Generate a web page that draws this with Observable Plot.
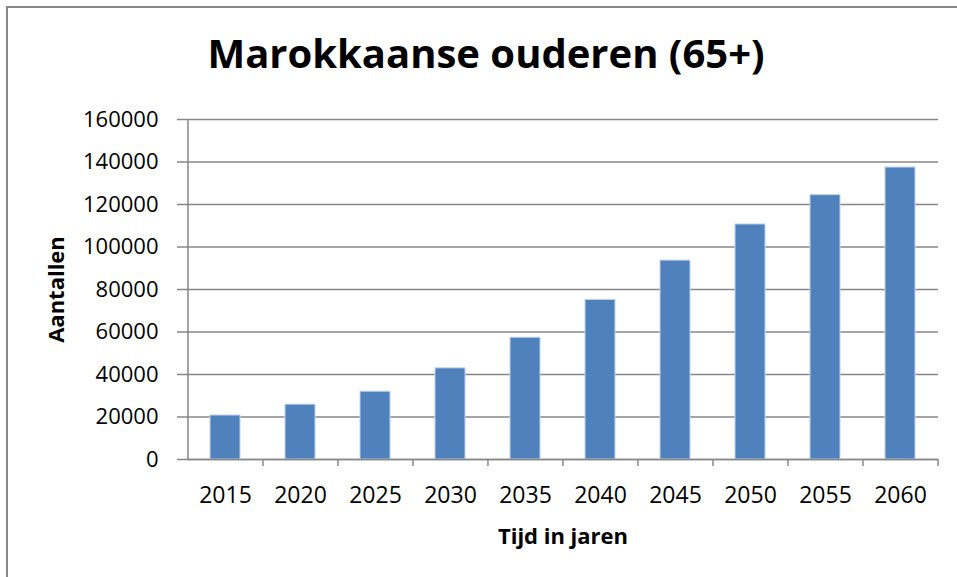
<!DOCTYPE html>
<html>
<head>
<meta charset="utf-8">
<script src="https://cdn.jsdelivr.net/npm/d3@7"></script>
<script src="https://cdn.jsdelivr.net/npm/@observablehq/plot@0.6"></script>
<style>
  html, body { margin: 0; padding: 0; background: #fff; }
  #wrap { position: relative; width: 957px; height: 577px; overflow: hidden; background: #fff; }
  #border { position: absolute; left: 6px; top: 6px; width: 1000px; height: 1000px; border: 2px solid #878787; }
  #title { position: absolute; left: 486px; top: 33px; transform: translateX(-50%); white-space: nowrap;
           font-family: "Open Sans", sans-serif; font-weight: 700; font-size: 40px; line-height: 1; color: #000; }
  #chart { position: absolute; left: 0; top: 100px; }
</style>
</head>
<body>
<div id="wrap">
  <div id="border"></div>
  <div id="title">Marokkaanse ouderen (65+)</div>
  <div id="chart"></div>
</div>
<script>
const titleText = "Marokkaanse ouderen (65+)";
const xLabel = "Tijd in jaren";
const yLabel = "Aantallen";
const years = ["2015", "2020", "2025", "2030", "2035", "2040", "2045", "2050", "2055", "2060"];
const values = [20700, 25800, 31900, 42900, 57300, 75100, 93600, 110600, 124400, 137400];
const yTicks = [0, 20000, 40000, 60000, 80000, 100000, 120000, 140000, 160000];

const data = years.map((y, i) => ({year: y, value: values[i]}));

const W = 957, H = 477;
const ml = 187, mr = 19, mt = 19, mb = 118;
const padInner = 0.6, padOuter = 0.3;
const step = (W - ml - mr) / (years.length - padInner + 2 * padOuter);
const frameH = H - mt - mb;
const gray = "#878787";

const chart = Plot.plot({
  width: W,
  height: H,
  marginLeft: ml,
  marginRight: mr,
  marginTop: mt,
  marginBottom: mb,
  style: {fontFamily: "Open Sans, sans-serif", fontSize: "22px", color: "#000", background: "transparent"},
  x: {domain: years, paddingInner: padInner, paddingOuter: padOuter, label: null},
  y: {domain: [0, 160000], label: null},
  marks: [
    Plot.gridY(yTicks, {stroke: gray, strokeOpacity: 1, strokeWidth: 1.5}),
    Plot.barY(data, {x: "year", y: "value", fill: "#4f81bd", stroke: "#c0d2ea", strokeWidth: 1}),
    Plot.ruleY([0], {stroke: gray, strokeWidth: 1.5}),
    Plot.ruleX([years[0]], {stroke: gray, strokeWidth: 1.5, dx: -step / 2}),
    Plot.ruleX(years.slice(1), {stroke: gray, strokeWidth: 1.5, dx: -step / 2, insetTop: frameH, insetBottom: -7}),
    Plot.ruleX([years[years.length - 1]], {stroke: gray, strokeWidth: 1.5, dx: step / 2, insetTop: frameH, insetBottom: -7}),
    Plot.axisY(yTicks, {tickSize: 10, tickPadding: 19, stroke: gray, strokeWidth: 1.5, fontSize: 22, fill: "#000", tickFormat: d => String(d), label: null}),
    Plot.axisX({tickSize: 0, tickPadding: 27, fontSize: 23, fill: "#000", label: null}),
    Plot.text([xLabel], {frameAnchor: "bottom", textAnchor: "middle", lineAnchor: "bottom", dy: 84, fontWeight: "bold", fontSize: 22, fill: "#000"}),
    Plot.text([yLabel], {frameAnchor: "left", textAnchor: "middle", lineAnchor: "middle", dx: -131, rotate: -90, fontWeight: "bold", fontSize: 22, fill: "#000"})
  ]
});
document.getElementById("chart").appendChild(chart);
</script>
</body>
</html>
